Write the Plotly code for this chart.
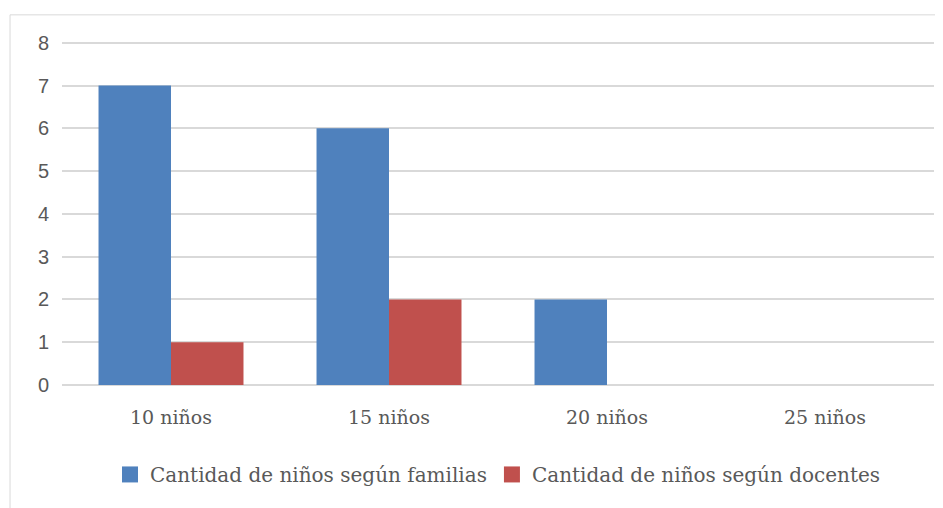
import plotly.graph_objects as go

categories = ["10 niños", "15 niños", "20 niños", "25 niños"]
familias = [7, 6, 2, 0]
docentes = [1, 2, 0, 0]
series_names = ["Cantidad de niños según familias", "Cantidad de niños según docentes"]
colors = ["#4f81bd", "#c0504d"]

serif = "DejaVu Serif"
sans = "Liberation Sans"
gray = "#595959"

fig = go.Figure()
fig.add_bar(x=categories, y=familias, name=series_names[0], marker_color=colors[0],
            marker_line_width=0, showlegend=False)
fig.add_bar(x=categories, y=docentes, name=series_names[1], marker_color=colors[1],
            marker_line_width=0, showlegend=False)
# legend entries with larger square symbols
for name, c in zip(series_names, colors):
    fig.add_scatter(x=[None], y=[None], mode="markers", name=name,
                    marker=dict(symbol="square", size=18, color=c))

fig.update_layout(
    width=935, height=500,
    margin=dict(l=54, r=9, t=33, b=123),
    paper_bgcolor="white", plot_bgcolor="white",
    barmode="group", bargap=0.335, bargroupgap=0,
    showlegend=True,
    legend=dict(orientation="h", x=0.5, xanchor="center", y=-0.26, yanchor="middle",
                font=dict(family=serif, size=20, color=gray),
                traceorder="normal", itemwidth=30),
    xaxis=dict(showgrid=False, showline=False, ticks="", ticklabelstandoff=19,
               tickfont=dict(family=serif, size=19, color=gray)),
    yaxis=dict(range=[0, 8.04], dtick=1, showgrid=True, gridcolor="#d9d9d9", gridwidth=1.5,
               zeroline=True, zerolinecolor="#d9d9d9", zerolinewidth=1.5,
               showline=False, ticks="", ticklen=0, ticklabelstandoff=12,
               tickfont=dict(family=sans, size=20, color=gray)),
)
fig.add_shape(type="rect", xref="paper", yref="paper", x0=-0.0596, x1=1.2, y0=-0.5, y1=1.076,
              line=dict(color="#d9d9d9", width=1), layer="below")

fig.write_html("out.html")
